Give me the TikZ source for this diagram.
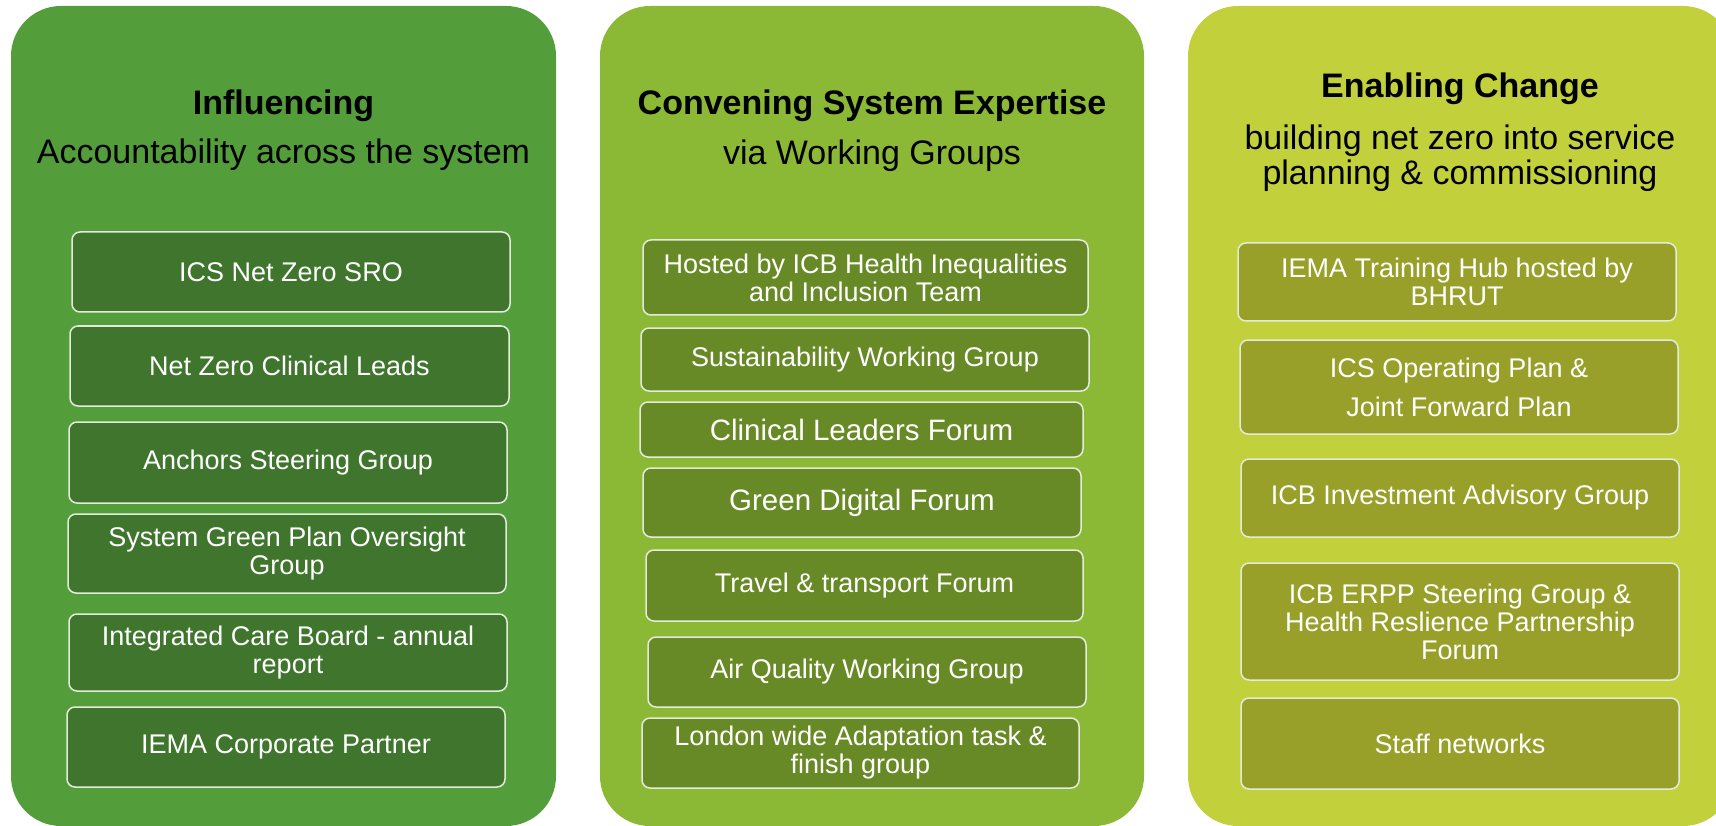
\documentclass[tikz,border=0pt]{standalone}
\usepackage{fontspec}
\setmainfont{Liberation Sans}
\definecolor{pA}{HTML}{539E3B}
\definecolor{bA}{HTML}{3F752C}
\definecolor{pB}{HTML}{8BB936}
\definecolor{bB}{HTML}{688A26}
\definecolor{pC}{HTML}{C2D03C}
\definecolor{bC}{HTML}{98A029}
\definecolor{edgecol}{HTML}{E4EBDD}
\begin{document}
\begin{tikzpicture}[x=1pt,y=-1pt,
 panel/.style={rounded corners=50pt, draw=none, inner sep=0pt, outer sep=0pt},
 item/.style={rounded corners=8pt, draw=edgecol, line width=1.5pt, text=white, align=center, inner sep=0pt, outer sep=0pt, font=\fontsize{27}{28}\selectfont},
 big/.style={font=\fontsize{29.5}{31}\selectfont},
 head/.style={font=\bfseries\fontsize{34}{36}\selectfont, text=black, inner sep=0pt},
 sub/.style={font=\fontsize{34}{35}\selectfont, text=black, align=center, inner sep=0pt}]
\useasboundingbox (0,0) rectangle (1716,826);
\clip (0,0) rectangle (1716,826);
% panels
\node[panel, fill=pA, minimum width=545pt, minimum height=820pt] (p1) at (283.5,416) {};
\node[panel, fill=pB, minimum width=544pt, minimum height=820pt] (p2) at (872,416) {};
\node[panel, fill=pC, minimum width=545pt, minimum height=820pt] (p3) at (1460.5,416) {};
% headings
\node[head] (h1) at (283.5,105.5) {Influencing};
\node[sub] (s1) at (283.5,154.5) {Accountability across the system};
\node[head] (h2) at (872,105.5) {Convening System Expertise};
\node[sub] (s2) at (872,155.5) {via Working Groups};
\node[head] (h3) at (1460,88.5) {Enabling Change};
\node[sub] (s3) at (1460,158) {building net zero into service\\planning \& commissioning};
% column 1
\node[item, fill=bA, minimum width=438pt, minimum height=80pt] (a1) at (291,272) {ICS Net Zero SRO};
\node[item, fill=bA, minimum width=439pt, minimum height=80pt] (a2) at (289.5,366) {Net Zero Clinical Leads};
\node[item, fill=bA, minimum width=438pt, minimum height=81pt] (a3) at (288,462.5) {Anchors Steering Group};
\node[item, fill=bA, minimum width=438pt, minimum height=79pt] (a4) at (287,553.5) {System Green Plan Oversight\\Group};
\node[item, fill=bA, minimum width=438pt, minimum height=77pt] (a5) at (288,652.5) {Integrated Care Board - annual\\report};
\node[item, fill=bA, minimum width=438pt, minimum height=80pt] (a6) at (286,747) {IEMA Corporate Partner};
% column 2
\node[item, fill=bB, minimum width=445pt, minimum height=75pt] (b1) at (865.5,277.5) {Hosted by ICB Health Inequalities\\and Inclusion Team};
\node[item, fill=bB, minimum width=448pt, minimum height=63pt] (b2) at (865,359.5) {Sustainability Working Group};
\node[item, big, fill=bB, minimum width=443pt, minimum height=55pt] (b3) at (861.5,429.5) {Clinical Leaders Forum};
\node[item, big, fill=bB, minimum width=438pt, minimum height=69pt] (b4) at (862,502.5) {Green Digital Forum};
\node[item, fill=bB, minimum width=437pt, minimum height=71pt] (b5) at (864.5,585.5) {Travel \& transport Forum};
\node[item, fill=bB, minimum width=438pt, minimum height=70pt] (b6) at (867,672) {Air Quality Working Group};
\node[item, fill=bB, minimum width=437pt, minimum height=70pt] (b7) at (860.5,753) {London wide Adaptation task \&\\finish group};
% column 3
\node[item, fill=bC, minimum width=438pt, minimum height=78pt] (c1) at (1457,282) {IEMA Training Hub hosted by\\BHRUT};
\node[item, fill=bC, minimum width=438pt, minimum height=94pt, font=\fontsize{27}{39}\selectfont] (c2) at (1459,387) {ICS Operating Plan \&\\Joint Forward Plan};
\node[item, fill=bC, minimum width=438pt, minimum height=78pt] (c3) at (1460,498) {ICB Investment Advisory Group};
\node[item, fill=bC, minimum width=438pt, minimum height=117pt] (c4) at (1460,621.5) {ICB ERPP Steering Group \&\\Health Reslience Partnership\\Forum};
\node[item, fill=bC, minimum width=438pt, minimum height=91pt] (c5) at (1460,743.5) {Staff networks};
\end{tikzpicture}
\end{document}
